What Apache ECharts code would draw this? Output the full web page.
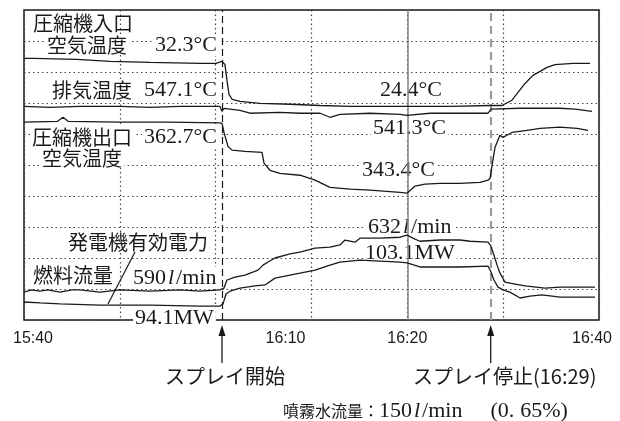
<!DOCTYPE html>
<html>
<head>
<meta charset="utf-8">
<script src="https://cdn.jsdelivr.net/npm/echarts@6/dist/echarts.min.js"></script>
<style>
    html, body { margin: 0; padding: 0; background: #fff; }
    #chart { width: 620px; height: 421px; }
</style>
</head>
<body>
<div id="chart"></div>
<script type="text/javascript">
    // x: minutes after 15:40, y: chart divisions (0..10)
    const inletAir = [[0,8.44],[1,8.44],[5.5,8.41],[9,8.34],[13.15,8.31],[18.37,8.28],[20.03,8.28],[20.66,8.34],[20.97,8.24],[21.18,7.73],[21.39,7.28],[21.71,7.12],[22.54,7.05],[24.63,6.99],[27.76,6.96],[30.89,6.92],[34.02,6.89],[39.24,6.89],[44.45,6.89],[48.63,6.92],[49.88,6.92],[50.92,7.09],[51.55,7.34],[52.28,7.63],[53.11,7.89],[53.85,8.02],[54.58,8.15],[55.41,8.24],[57.29,8.28],[59.06,8.28]];
    const exhaust = [[0,6.89],[2.71,6.86],[5.84,6.89],[10.02,6.89],[13.15,6.86],[16.28,6.89],[19.93,6.89],[20.45,6.89],[20.66,6.73],[20.87,6.83],[22.54,6.76],[23.58,6.67],[26.71,6.7],[28.8,6.67],[30.89,6.67],[31.93,6.54],[32.97,6.63],[36.11,6.67],[39.24,6.63],[39.97,6.6],[42.37,6.67],[45.5,6.67],[48.42,6.67],[48.73,6.8],[51.76,6.83],[55.93,6.83],[57.5,6.8],[59.27,6.73]];
    const outletAir = [[0,6.38],[3.5,6.41],[4.07,6.54],[4.6,6.41],[10,6.38],[15,6.38],[20.45,6.36],[20.66,6.34],[20.87,6.05],[21.29,5.6],[21.71,5.48],[23.06,5.44],[24.84,5.41],[25.04,5.06],[25.67,4.83],[26.71,4.73],[28.8,4.67],[30.37,4.51],[31.93,4.28],[34.02,4.22],[36.11,4.19],[39.24,4.12],[39.97,4.09],[40.8,4.32],[41.84,4.38],[43.41,4.41],[45.5,4.41],[47.58,4.44],[48.42,4.51],[48.63,4.57],[48.84,4.99],[49.15,5.57],[49.67,5.96],[49.98,5.89],[50.92,6.05],[52.49,6.12],[53.85,6.18],[55.93,6.22],[57.71,6.18],[58.85,6.12]];
    const fuelFlow = [[0,0.9],[0.8,0.97],[1.67,0.93],[2.5,0.97],[3.76,0.9],[5,0.97],[5.84,0.97],[7.93,0.9],[10.02,0.97],[13.15,0.93],[16.28,0.97],[18.37,0.93],[20.45,0.97],[20.87,1.03],[21.18,1.29],[22.02,1.38],[23.06,1.45],[24.42,1.61],[24.94,1.77],[25.46,1.87],[26.19,2.0],[27.76,2.13],[28.8,2.19],[30.37,2.32],[31.93,2.35],[32.97,2.42],[33.5,2.58],[34.54,2.51],[35.06,2.64],[37.15,2.64],[39.24,2.67],[39.97,2.74],[40.8,2.61],[41.32,2.54],[43.41,2.58],[45.5,2.58],[46.54,2.54],[48.42,2.51],[48.73,2.38],[49.04,2.09],[49.36,1.77],[49.67,1.51],[50.19,1.22],[51.24,1.16],[52.28,1.1],[54.37,1.03],[55.93,1.06],[58.02,1.06],[59.58,1.06]];
    const genPower = [[0,0.58],[1.67,0.55],[3.76,0.52],[7.93,0.48],[13.15,0.48],[18.37,0.45],[20.45,0.45],[20.77,0.52],[21.08,0.84],[21.5,0.93],[22.54,1.03],[24.1,1.1],[25.15,1.13],[26.19,1.35],[27.76,1.45],[28.8,1.51],[30.37,1.61],[31.93,1.77],[32.97,1.87],[35.06,1.93],[37.15,1.9],[39.24,1.87],[39.97,1.84],[41.32,1.71],[43.41,1.71],[45.5,1.71],[48.42,1.74],[48.73,1.55],[49.04,1.29],[49.46,1.06],[49.98,0.97],[50.71,0.9],[51.76,0.71],[52.8,0.77],[54.05,0.81],[55.93,0.74],[58.02,0.74],[59.58,0.74]];

    const sprayStart = 20.66;
    const sprayStop = 48.7;
    const labelMinutes = [0, 30, 40, 60];
    const labelTexts = ['15:40', '16:10', '16:20', '16:40'];

    const ink = '#1a1a1a';
    const jp = '"Noto Sans CJK JP", sans-serif';
    const serif = '"Liberation Serif", "DejaVu Serif", serif';

    var chart = echarts.init(document.getElementById('chart'), null, { renderer: 'canvas' });

    function lineSeries(name, data) {
        return {
            name: name,
            type: 'line',
            data: data,
            showSymbol: false,
            silent: true,
            z: 3,
            lineStyle: { color: ink, width: 1.3 }
        };
    }

    // text annotation anchored at (x, cy); align left or right
    function txt(text, x, cy, opts) {
        opts = opts || {};
        return {
            type: 'text',
            x: x,
            y: cy,
            z: 1,
            silent: true,
            style: {
                text: text,
                font: opts.font || ('20px ' + jp),
                fill: ink,
                align: opts.align || 'left',
                verticalAlign: 'middle',
                backgroundColor: opts.bg === false ? null : '#fff',
                padding: [0, 2],
                rich: {
                    j: { font: '20px ' + jp, fill: ink },
                    s: { font: '16px ' + jp, fill: ink },
                    n: { font: '22px ' + serif, fill: ink },
                    i: { font: 'italic 22px ' + serif, fill: ink, padding: [0, 2] },
                    g: { font: '22px ' + serif, fill: ink, padding: [0, 0, 0, 28] },
                    h: { font: '22px ' + serif, fill: ink, padding: [0, 0, 0, 6] }
                }
            }
        };
    }
    var num = '22px ' + serif;

    var option = {
        animation: false,
        grid: { left: 24, right: 21, top: 10, bottom: 101, show: true, borderColor: ink, borderWidth: 1.5 },
        xAxis: {
            type: 'value', min: 0, max: 60, interval: 10,
            axisLine: { show: false },
            axisTick: { show: false },
            splitLine: { show: true, lineStyle: { color: '#444', type: [1.5, 3], width: 1.2 } },
            axisLabel: {
                margin: 11,
                color: ink,
                fontSize: 16,
                fontFamily: '"Liberation Sans", Arial, sans-serif',
                showMinLabel: true,
                showMaxLabel: true,
                formatter: function (v) {
                    var i = labelMinutes.indexOf(v);
                    if (i < 0) return '';
                    return '{' + ['a', 'b', 'c', 'd'][i] + '|' + labelTexts[i] + '}';
                },
                rich: {
                    a: { fontSize: 16, color: ink, padding: [0, 0, 0, 18] },
                    b: { fontSize: 16, color: ink, padding: [0, 52, 0, 0] },
                    c: { fontSize: 16, color: ink },
                    d: { fontSize: 16, color: ink, padding: [0, 14, 0, 0] }
                }
            }
        },
        yAxis: {
            type: 'value', min: 0, max: 10, interval: 1,
            axisLine: { show: false },
            axisTick: { show: false },
            axisLabel: { show: false },
            splitLine: { show: true, lineStyle: { color: '#444', type: [1.5, 3], width: 1.2 } }
        },
        series: [
            Object.assign(lineSeries('圧縮機入口空気温度', inletAir), {
                markLine: {
                    silent: true,
                    symbol: ['none', 'none'],
                    label: { show: false },
                    z: 2,
                    data: [
                        { xAxis: 40, lineStyle: { color: '#8a8a8a', type: 'solid', width: 1.6 } },
                        { xAxis: sprayStart, lineStyle: { color: ink, type: [7, 4], width: 1.2 } },
                        { xAxis: sprayStop, lineStyle: { color: '#9a9a9a', type: [8, 5], width: 2.2 } }
                    ]
                }
            }),
            lineSeries('排気温度', exhaust),
            lineSeries('圧縮機出口空気温度', outletAir),
            lineSeries('燃料流量', fuelFlow),
            lineSeries('発電機有効電力', genPower)
        ]
    };
    chart.setOption(option);

    // annotations
    var graphics = [
        txt('圧縮機入口', 31, 23, { bg: false }),
        txt('空気温度', 45, 45),
        txt('32.3°C', 219, 45, { font: num, align: 'right' }),
        txt('排気温度', 50, 90),
        txt('547.1°C', 219, 90, { font: num, align: 'right' }),
        txt('圧縮機出口', 30, 137),
        txt('362.7°C', 219, 137, { font: num, align: 'right' }),
        txt('空気温度', 40, 158),
        txt('24.4°C', 378, 90, { font: num }),
        txt('541.3°C', 371, 128, { font: num }),
        txt('343.4°C', 360, 170, { font: num }),
        txt('{n|632}{i|l}{n|/min}', 366, 227),
        txt('{n|103.1MW}', 363, 253),
        txt('発電機有効電力', 66, 242),
        txt('燃料流量', 31, 275),
        txt('{n|590}{i|l}{n|/min}', 131, 278),
        txt('{n|94.1MW}', 133, 318),
        txt('スプレイ開始', 163, 376, { bg: false }),
        txt('スプレイ停止(16:29)', 411, 376, { bg: false }),
        txt('{s|噴霧水流量：}{n|150}{i|l}{n|/min}{g|(0.}{h|65%)}', 281, 411, { bg: false }),
        {
            type: 'line', z: 4, silent: true,
            shape: { x1: 135, y1: 252, x2: 108, y2: 304 },
            style: { stroke: ink, lineWidth: 1.2 }
        }
    ];
    [sprayStart, sprayStop].forEach(function (t) {
        var x = chart.convertToPixel({ xAxisIndex: 0 }, t);
        graphics.push({
            type: 'line', silent: true,
            shape: { x1: x, y1: 334, x2: x, y2: 363 },
            style: { stroke: ink, lineWidth: 1.3 }
        });
        graphics.push({
            type: 'polygon', silent: true,
            shape: { points: [[x, 325], [x - 3.5, 336], [x + 3.5, 336]] },
            style: { fill: ink }
        });
    });
    chart.setOption({ graphic: graphics });

    window.addEventListener('resize', chart.resize);
</script>
</body>
</html>
